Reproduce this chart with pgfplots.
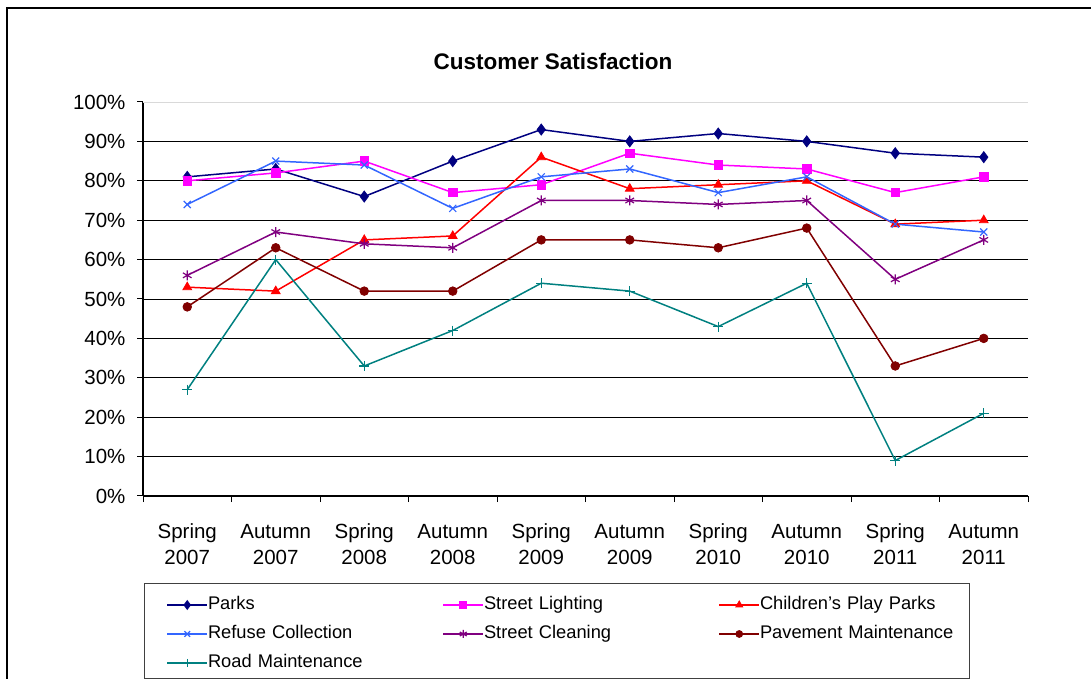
\documentclass[border=0pt]{standalone}
\usepackage{fontspec}
\setmainfont{Liberation Sans}
\usepackage{pgfplots}
\pgfplotsset{compat=1.18}
\definecolor{cParks}{RGB}{0,0,128}
\definecolor{cLight}{RGB}{255,0,255}
\definecolor{cChild}{RGB}{255,0,0}
\definecolor{cRefuse}{RGB}{51,102,255}
\definecolor{cClean}{RGB}{128,0,128}
\definecolor{cPave}{RGB}{128,0,0}
\definecolor{cRoad}{RGB}{0,128,128}
\begin{document}
\begin{tikzpicture}
\useasboundingbox (0,0) rectangle (1091pt,679pt);
\draw[line width=1.6pt] (7pt,0pt) -- (7pt,671pt) -- (1091pt,671pt);
\begin{axis}[
  at={(143pt,183pt)}, anchor=south west,
  scale only axis, width=885pt, height=394pt,
  xmin=-0.5, xmax=9.5, ymin=0, ymax=100,
  axis x line*=bottom, axis y line*=left,
  axis line style={line width=1.2pt, black},
  xtick={-0.5,0.5,...,9.5},
  x tick label as interval,
  xticklabels={{\strut Spring\\2007},{\strut Autumn\\2007},{\strut Spring\\2008},{\strut Autumn\\2008},{\strut Spring\\2009},{\strut Autumn\\2009},{\strut Spring\\2010},{\strut Autumn\\2010},{\strut Spring\\2011},{\strut Autumn\\2011}},
  xticklabel style={align=center, font=\fontsize{20.5}{26}\selectfont, yshift=-15pt},
  ytick={0,10,...,90},
  yticklabels={0\%,10\%,20\%,30\%,40\%,50\%,60\%,70\%,80\%,90\%},
  extra y ticks={100},
  extra y tick labels={100\%},
  extra y tick style={grid style={gray!30, line width=0.8pt}},
  yticklabel style={font=\fontsize{20.5}{24}\selectfont, xshift=-8pt},
  tick align=outside,
  major tick length=6pt,
  tick style={black, line width=1pt},
  ymajorgrids,
  grid style={black, line width=0.9pt},
  title={\bfseries Customer Satisfaction},
  title style={at={(0.5,1)}, anchor=center, yshift=35pt, xshift=-32.5pt, font=\fontsize{22.5}{26}\selectfont\bfseries},
  every axis plot/.append style={line width=1.5pt},
  legend columns=3,
  legend image code/.code={\path (0pt,0pt); \draw[mark repeat=2,mark phase=2,every mark/.append style={scale=0.8}] plot coordinates {(6pt,-3pt) (26pt,-3pt) (46pt,-3pt)};},
  legend style={
    at={(0.00113,-0.2208)}, anchor=north west,
    draw=black!75, line width=1pt,
    font=\fontsize{18.3}{22}\selectfont,
    inner xsep=16pt, inner ysep=7pt,
    column sep=0pt, row sep=6pt,
    /tikz/every even column/.append style={column sep=35pt},
    nodes={text width=193.5pt, align=left, inner xsep=0pt, inner ysep=0pt, text height=19pt, text depth=4pt},
  },
  legend cell align=left,
]
\addplot[color=cParks, mark=diamond*, mark size=5.5pt, mark options={solid, line width=0.8pt}] coordinates {
 (0,81) (1,83) (2,76) (3,85) (4,93) (5,90) (6,92) (7,90) (8,87) (9,86)};
\addlegendentry{Parks}
\addplot[color=cLight, mark=square*, mark size=4.2pt, mark options={solid, line width=0.8pt}] coordinates {
 (0,80) (1,82) (2,85) (3,77) (4,79) (5,87) (6,84) (7,83) (8,77) (9,81)};
\addlegendentry{Street Lighting}
\addplot[color=cChild, mark=triangle*, mark size=5pt, mark options={solid, line width=0.8pt}] coordinates {
 (0,53) (1,52) (2,65) (3,66) (4,86) (5,78) (6,79) (7,80) (8,69) (9,70)};
\addlegendentry{Children’s Play Parks}
\addplot[color=cRefuse, mark=x, mark size=5pt, mark options={solid, line width=1.2pt}] coordinates {
 (0,74) (1,85) (2,84) (3,73) (4,81) (5,83) (6,77) (7,81) (8,69) (9,67)};
\addlegendentry{Refuse Collection}
\addplot[color=cClean, mark=asterisk, mark size=5pt, mark options={solid, line width=1.2pt}] coordinates {
 (0,56) (1,67) (2,64) (3,63) (4,75) (5,75) (6,74) (7,75) (8,55) (9,65)};
\addlegendentry{Street Cleaning}
\addplot[color=cPave, mark=*, mark size=4.3pt, mark options={solid, line width=0.8pt}] coordinates {
 (0,48) (1,63) (2,52) (3,52) (4,65) (5,65) (6,63) (7,68) (8,33) (9,40)};
\addlegendentry{Pavement Maintenance}
\addplot[color=cRoad, mark=+, mark size=5pt, mark options={solid, line width=1.2pt}] coordinates {
 (0,27) (1,60) (2,33) (3,42) (4,54) (5,52) (6,43) (7,54) (8,9) (9,21)};
\addlegendentry{Road Maintenance}
\end{axis}
\end{tikzpicture}
\end{document}
